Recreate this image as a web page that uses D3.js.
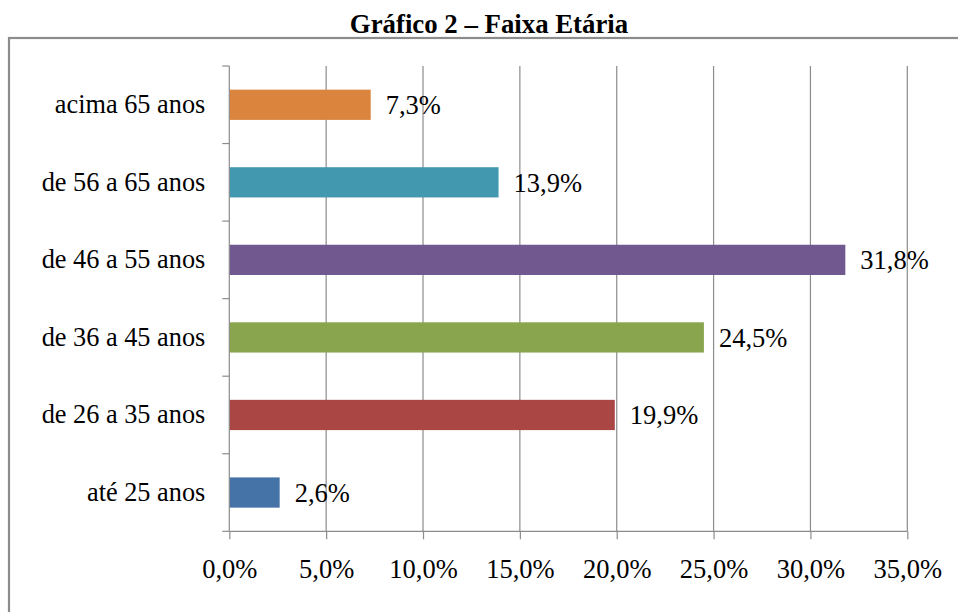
<!DOCTYPE html>
<html><head><meta charset="utf-8">
<script src="https://cdn.jsdelivr.net/npm/d3@7"></script>
<style>
html,body{margin:0;padding:0;background:#fff;overflow:hidden}
text{font-family:"Liberation Serif","Times New Roman",serif;fill:#000}
</style></head>
<body>
<svg id="chart" width="958" height="612"></svg>
<script>
const title = "Gráfico 2 – Faixa Etária";
const categories = ["acima 65 anos","de 56 a 65 anos","de 46 a 55 anos","de 36 a 45 anos","de 26 a 35 anos","até 25 anos"];
const values = [7.3, 13.9, 31.8, 24.5, 19.9, 2.6];
const colors = ["#DB843D","#4198AF","#71588F","#89A54E","#AA4643","#4572A7"];
const xTicks = [0,5,10,15,20,25,30,35];

const svg = d3.select("#chart");
const fmt = v => v.toFixed(1).replace(".", ",") + "%";
const serif = '"Liberation Serif","Times New Roman",serif';

svg.append("text").attr("x", 489).attr("y", 33).attr("text-anchor","middle")
  .style("font-family",serif).style("font-size","26.8px").style("font-weight","bold").text(title);

svg.append("rect").attr("x",9).attr("y",38).attr("width",1000).attr("height",700)
  .attr("fill","none").attr("stroke","#8c8c8c").attr("stroke-width",2.2);

const pL = 229.3, pR = 907.3, pT = 66, pB = 531.3;
const x = d3.scaleLinear().domain([0,35]).range([pL,pR]);
const y = d3.scaleBand().domain(categories).range([pT,pB]).paddingInner(0.61).paddingOuter(0.305);

// gridlines
svg.append("g").selectAll("line").data(xTicks.slice(1)).join("line")
  .attr("x1",d=>x(d)).attr("x2",d=>x(d)).attr("y1",pT).attr("y2",pB)
  .attr("stroke","#8c8c8c").attr("stroke-width",1.2);

// bars
svg.append("g").selectAll("rect").data(categories).join("rect")
  .attr("x",x(0)).attr("y",d=>y(d))
  .attr("width",(d,i)=>x(values[i])-x(0)).attr("height",y.bandwidth())
  .attr("fill",(d,i)=>colors[i]);

// x axis
const xAxis = d3.axisBottom(x).tickValues(xTicks).tickFormat(d=>fmt(d)).tickSize(8).tickPadding(20);
const gx = svg.append("g").attr("transform",`translate(0,${pB})`).call(xAxis);
gx.select(".domain").attr("stroke","#8c8c8c").attr("stroke-width",1.2).attr("d",`M${pL},0H${pR}`);
gx.selectAll(".tick line").attr("stroke","#8c8c8c").attr("stroke-width",1.2);
gx.selectAll(".tick text").style("font-family",serif).style("font-size","26.5px").attr("fill","#000");

// y axis
const yAxis = d3.axisLeft(y).tickSize(0).tickPadding(24);
const gy = svg.append("g").attr("transform",`translate(${pL},0)`).call(yAxis);
gy.select(".domain").attr("stroke","#8c8c8c").attr("stroke-width",1.2).attr("d",`M0,${pT}V${pB}`);
gy.selectAll(".tick text").style("font-family",serif).style("font-size","26.3px").attr("fill","#000");
// boundary ticks
const step = y.step();
const bounds = d3.range(categories.length+1).map(i => pT + i*step);
svg.append("g").selectAll("line").data(bounds).join("line")
  .attr("x1",pL-7).attr("x2",pL).attr("y1",d=>d).attr("y2",d=>d)
  .attr("stroke","#8c8c8c").attr("stroke-width",1.2);

// data labels
svg.append("g").selectAll("text").data(categories).join("text")
  .attr("x",(d,i)=>x(values[i])+15).attr("y",d=>y(d)+y.bandwidth()/2)
  .attr("dy","0.35em").style("font-family",serif).style("font-size","26.5px").text((d,i)=>fmt(values[i]));
</script>
</body></html>
